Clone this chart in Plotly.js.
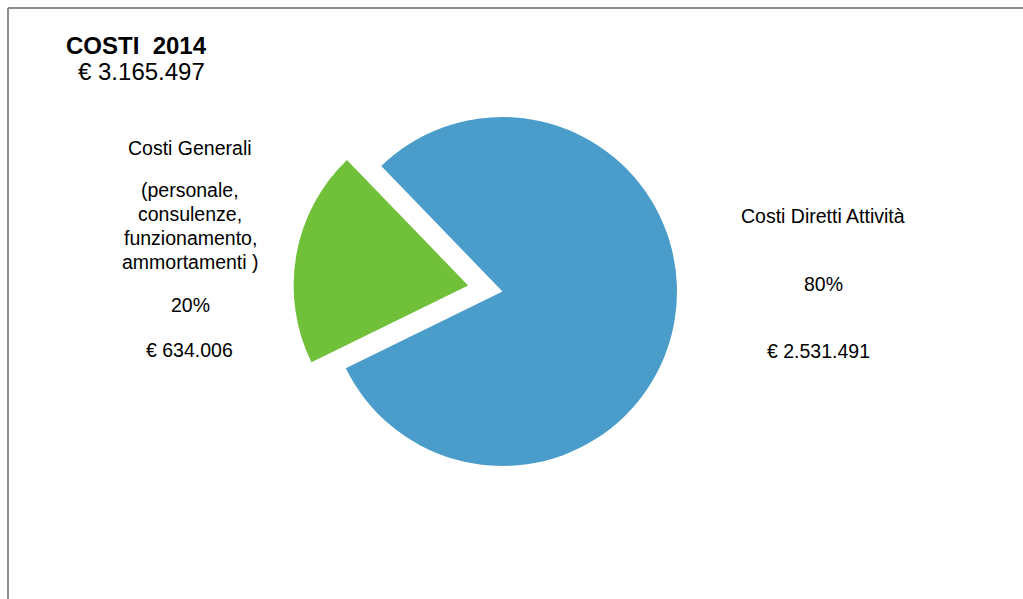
<!DOCTYPE html>
<html>
<head>
<meta charset="utf-8">
<script src="https://cdn.plot.ly/plotly-3.0.1.min.js"></script>
<style>
html, body { margin: 0; padding: 0; background: #ffffff; }
#chart { width: 1023px; height: 599px; }
</style>
</head>
<body>
<div id="chart"></div>
<script>
// Data
var categories = ["Costi Diretti Attività", "Costi Generali"];
var values = [2531491, 634006];
var percentLabels = ["80%", "20%"];
var amountLabels = ["€ 2.531.491", "€ 634.006"];
var detailLines = ["(personale,", "consulenze,", "funzionamento,", "ammortamenti )"];
var titleText = "COSTI  2014";
var totalText = "€ 3.165.497";

var colors = ["#4A9DCA", "#70C03A"];
var W = 1023, H = 599;
var FONT = "Liberation Sans, Arial, sans-serif";
var LBL = 19.5;

function px(x) { return x / W; }
function py(y) { return 1 - y / H; }

// pie box: radius 174.5 with pull 0.2 -> box 2.4 * r
var cx = 502.5, cy = 291.5, half = 174.5 * 1.2;

var trace = {
  type: "pie",
  labels: categories,
  values: values,
  sort: false,
  direction: "clockwise",
  rotation: -44,
  pull: [0, 0.2],
  marker: { colors: colors, line: { width: 0 } },
  textinfo: "none",
  hoverinfo: "label+value+percent",
  showlegend: false,
  domain: { x: [px(cx - half), px(cx + half)], y: [py(cy + half), py(cy - half)] }
};

function ann(text, x, y, size, bold) {
  return {
    text: bold ? "<b>" + text + "</b>" : text,
    x: px(x), y: py(y), xref: "paper", yref: "paper",
    xanchor: "center", yanchor: "middle", showarrow: false,
    font: { family: FONT, size: size, color: "#000000" }
  };
}

var annotations = [
  ann(titleText, 136, 45, 24, true),
  ann(totalText, 141, 72, 24, false),
  ann(categories[1], 190, 148, LBL, false),
  ann(percentLabels[1], 190, 305, LBL, false),
  ann(amountLabels[1], 189, 350, LBL, false),
  ann(categories[0], 823, 216, LBL, false),
  ann(percentLabels[0], 823, 284, LBL, false),
  ann(amountLabels[0], 818, 351, LBL, false)
];
detailLines.forEach(function (t, i) {
  annotations.push(ann(t, 190, 190 + 24 * i, LBL, false));
});

var layout = {
  width: W, height: H,
  margin: { l: 0, r: 0, t: 0, b: 0 },
  paper_bgcolor: "#ffffff",
  plot_bgcolor: "#ffffff",
  annotations: annotations,
  shapes: [
    { type: "line", xref: "paper", yref: "paper", x0: px(8), x1: 1.01, y0: py(8), y1: py(8), line: { color: "#8c8c8c", width: 2 } },
    { type: "line", xref: "paper", yref: "paper", x0: px(8), x1: px(8), y0: py(8), y1: -0.01, line: { color: "#8c8c8c", width: 2 } }
  ]
};

Plotly.newPlot("chart", [trace], layout, { displayModeBar: false, staticPlot: true });
</script>
</body>
</html>
